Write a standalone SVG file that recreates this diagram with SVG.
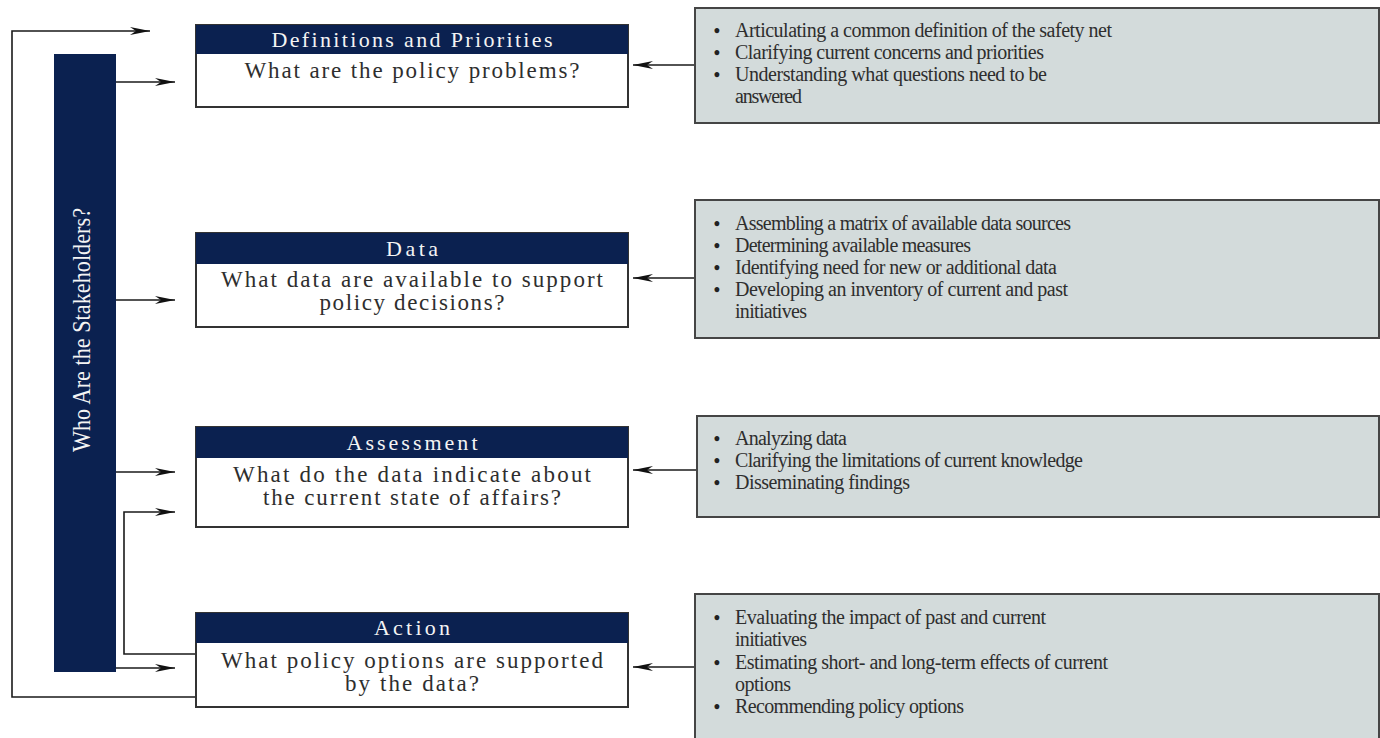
<svg xmlns="http://www.w3.org/2000/svg" width="1380" height="738" viewBox="0 0 1380 738">
<style>
.box{fill:#ffffff;stroke:#333;stroke-width:2}
.hdr{fill:#0b2150}
.htxt{font-family:"Liberation Serif",serif;font-size:22px;fill:#f4f4f4;text-anchor:middle}
.btxt{font-family:"Liberation Serif",serif;font-size:23px;fill:#2e2e2e;text-anchor:middle}
.rbox{fill:#d3dbdb;stroke:#454545;stroke-width:2}
.rtxt{font-family:"Liberation Serif",serif;font-size:20px;fill:#2e2e2e}
.bul{font-family:"Liberation Serif",serif;font-size:18px;font-weight:bold;fill:#222;text-anchor:middle}
.con{fill:none;stroke:#1a1a1a;stroke-width:1.6}
</style>
<defs>
<marker id="arr" markerUnits="userSpaceOnUse" markerWidth="22" markerHeight="10" refX="20" refY="5" orient="auto">
<path d="M0,1 L20,5 L0,9 L6,5 z" fill="#111"/>
</marker>
</defs>
<rect width="1380" height="738" fill="#ffffff"/>

<g id="stakeholders">
<rect x="54" y="54" width="62" height="618" fill="#0b2150"/>
<text transform="translate(90,330) rotate(-90)" x="0" y="0" font-family="'Liberation Serif',serif" font-size="25" fill="#f4f4f4" text-anchor="middle" textLength="244" lengthAdjust="spacingAndGlyphs">Who Are the Stakeholders?</text>
</g>

<g id="connectors">
<path class="con" d="M196,697 H12 V31 H150" marker-end="url(#arr)"/>
<path class="con" d="M116,82 H175" marker-end="url(#arr)"/>
<path class="con" d="M116,300 H175" marker-end="url(#arr)"/>
<path class="con" d="M116,472 H175" marker-end="url(#arr)"/>
<path class="con" d="M116,668 H175" marker-end="url(#arr)"/>
<path class="con" d="M196,654 H124 V512 H175" marker-end="url(#arr)"/>
<path class="con" d="M695,65 H633" marker-end="url(#arr)"/>
<path class="con" d="M695,278 H633" marker-end="url(#arr)"/>
<path class="con" d="M697,470 H633" marker-end="url(#arr)"/>
<path class="con" d="M695,667 H633" marker-end="url(#arr)"/>
</g>

<g id="definitions">
<rect class="box" x="196" y="25" width="432" height="82"/>
<rect class="hdr" x="196" y="25" width="432" height="29"/>
<text class="htxt" x="412" y="47" textLength="281">Definitions and Priorities</text>
<text class="btxt" x="412" y="78" textLength="335">What are the policy problems?</text>
</g>

<g id="data">
<rect class="box" x="196" y="233" width="432" height="94"/>
<rect class="hdr" x="196" y="233" width="432" height="31"/>
<text class="htxt" x="412" y="256" textLength="52">Data</text>
<text class="btxt" x="412" y="287" textLength="382">What data are available to support</text>
<text class="btxt" x="412" y="310" textLength="185">policy decisions?</text>
</g>

<g id="assessment">
<rect class="box" x="196" y="427" width="432" height="100"/>
<rect class="hdr" x="196" y="427" width="432" height="31"/>
<text class="htxt" x="412" y="450" textLength="131">Assessment</text>
<text class="btxt" x="412" y="482" textLength="358">What do the data indicate about</text>
<text class="btxt" x="412" y="505" textLength="298">the current state of affairs?</text>
</g>

<g id="action">
<rect class="box" x="196" y="613" width="432" height="94"/>
<rect class="hdr" x="196" y="613" width="432" height="30"/>
<text class="htxt" x="412" y="635" textLength="76">Action</text>
<text class="btxt" x="412" y="668" textLength="382">What policy options are supported</text>
<text class="btxt" x="412" y="691" textLength="134">by the data?</text>
</g>

<g id="r-definitions">
<rect class="rbox" x="695" y="8" width="684" height="115"/>
<text class="bul" x="717" y="37">•</text>
<text class="rtxt" x="735" y="37" textLength="377">Articulating a common definition of the safety net</text>
<text class="bul" x="717" y="59">•</text>
<text class="rtxt" x="735" y="59" textLength="309">Clarifying current concerns and priorities</text>
<text class="bul" x="717" y="81">•</text>
<text class="rtxt" x="735" y="81" textLength="312">Understanding what questions need to be</text>
<text class="rtxt" x="735" y="103" textLength="67">answered</text>
</g>

<g id="r-data">
<rect class="rbox" x="695" y="200" width="684" height="138"/>
<text class="bul" x="717" y="230">•</text>
<text class="rtxt" x="735" y="230" textLength="336">Assembling a matrix of available data sources</text>
<text class="bul" x="717" y="252">•</text>
<text class="rtxt" x="735" y="252" textLength="236">Determining available measures</text>
<text class="bul" x="717" y="274">•</text>
<text class="rtxt" x="735" y="274" textLength="322">Identifying need for new or additional data</text>
<text class="bul" x="717" y="296">•</text>
<text class="rtxt" x="735" y="296" textLength="333">Developing an inventory of current and past</text>
<text class="rtxt" x="735" y="318" textLength="72">initiatives</text>
</g>

<g id="r-assessment">
<rect class="rbox" x="697" y="416" width="682" height="101"/>
<text class="bul" x="717" y="445">•</text>
<text class="rtxt" x="735" y="445" textLength="112">Analyzing data</text>
<text class="bul" x="717" y="467">•</text>
<text class="rtxt" x="735" y="467" textLength="348">Clarifying the limitations of current knowledge</text>
<text class="bul" x="717" y="489">•</text>
<text class="rtxt" x="735" y="489" textLength="175">Disseminating findings</text>
</g>

<g id="r-action">
<rect class="rbox" x="695" y="594" width="684" height="160"/>
<text class="bul" x="717" y="624">•</text>
<text class="rtxt" x="735" y="624" textLength="311">Evaluating the impact of past and current</text>
<text class="rtxt" x="735" y="646" textLength="72">initiatives</text>
<text class="bul" x="717" y="669">•</text>
<text class="rtxt" x="735" y="669" textLength="373">Estimating short- and long-term effects of current</text>
<text class="rtxt" x="735" y="691" textLength="56">options</text>
<text class="bul" x="717" y="713">•</text>
<text class="rtxt" x="735" y="713" textLength="229">Recommending policy options</text>
</g>
</svg>
